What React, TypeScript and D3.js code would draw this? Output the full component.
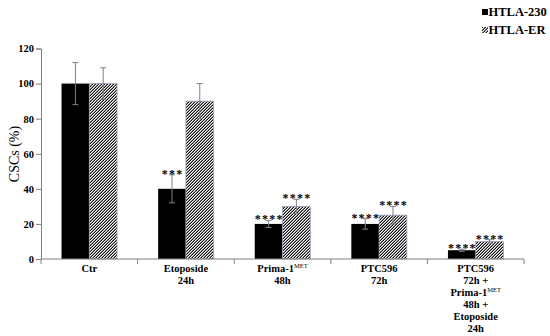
import React, { useEffect, useRef } from 'react';
import * as d3 from 'd3';

const categories = ['Ctr', 'Etoposide 24h', 'Prima-1MET 48h', 'PTC596 72h', 'PTC596 72h + Prima-1MET 48h + Etoposide 24h'];
// label lines, "^" marks the superscript part
const catLines = [
  ['Ctr'],
  ['Etoposide', '24h'],
  ['Prima-1^MET', '48h'],
  ['PTC596', '72h'],
  ['PTC596', '72h +', 'Prima-1^MET', '48h +', 'Etoposide', '24h'],
];
const series = ['HTLA-230', 'HTLA-ER'];
const htla230 = [100, 40, 20, 20, 5];
const err230 = [12, 8, 2, 3, 0.6];
const htlaER = [100, 90, 30, 25, 10];
const errER = [9, 10, 4, 5, 1];
const sig230 = ['', '***', '****', '****', '****'];
const sigER = ['', '', '****', '****', '****'];
const yTicks = [0, 20, 40, 60, 80, 100, 120];

const FONT = '"Liberation Serif", "Times New Roman", serif';
const AXIS = '#808080';

export default function App() {
  const ref = useRef<SVGSVGElement>(null);
  useEffect(() => {
    const svg = d3.select(ref.current);
    svg.selectAll('*').remove();
    const W = 550, H = 336;
    const M = { left: 41, right: 26, top: 48.5, bottom: 77 };

    // fine "/" hatch drawn on the pixel grid
    const defs = svg.append('defs');
    const pat = defs.append('pattern').attr('id', 'hatch').attr('patternUnits', 'userSpaceOnUse')
      .attr('width', 3).attr('height', 3);
    pat.append('rect').attr('width', 3).attr('height', 3).attr('fill', '#fff');
    [[2, 0], [1, 1], [0, 2]].forEach(([px, py]) => {
      pat.append('rect').attr('x', px).attr('y', py).attr('width', 1).attr('height', 1).attr('fill', '#111');
    });
    [[1, 0], [0, 1], [2, 2]].forEach(([px, py]) => {
      pat.append('rect').attr('x', px).attr('y', py).attr('width', 1).attr('height', 1).attr('fill', '#8a8a8a');
    });

    const x = d3.scaleBand<string>().domain(categories).range([M.left, W - M.right]).padding(0);
    const xi = d3.scaleBand<string>().domain(series).range([0, x.bandwidth()]).paddingInner(0).paddingOuter(0.74);
    const y = d3.scaleLinear().domain([0, 120]).range([H - M.bottom, M.top]);

    const g = svg.append('g');
    const vals = [htla230, htlaER], errs = [err230, errER], sigs = [sig230, sigER];

    series.forEach((s, si) => {
      categories.forEach((c, ci) => {
        const bx = x(c)! + xi(s)!;
        const bw = xi.bandwidth();
        g.append('rect').attr('x', bx).attr('y', y(vals[si][ci])).attr('width', bw)
          .attr('height', y(0) - y(vals[si][ci]))
          .attr('fill', si === 0 ? '#000' : 'url(#hatch)')
          .attr('stroke', si === 0 ? 'none' : '#9aa3bd').attr('stroke-width', 0.8);
        const cx = bx + bw / 2;
        const top = y(vals[si][ci] + errs[si][ci]);
        const bot = y(vals[si][ci] - errs[si][ci]);
        g.append('line').attr('x1', cx).attr('x2', cx).attr('y1', top).attr('y2', bot).attr('stroke', AXIS).attr('stroke-width', 1);
        g.append('line').attr('x1', cx - 3).attr('x2', cx + 3).attr('y1', top).attr('y2', top).attr('stroke', AXIS).attr('stroke-width', 1);
        g.append('line').attr('x1', cx - 3).attr('x2', cx + 3).attr('y1', bot).attr('y2', bot).attr('stroke', AXIS).attr('stroke-width', 1);
        if (sigs[si][ci]) {
          g.append('text').text(sigs[si][ci]).attr('x', cx + 0.6).attr('y', top + 3)
            .attr('text-anchor', 'middle').attr('font-family', FONT).attr('font-weight', 'bold')
            .attr('font-size', 12).attr('letter-spacing', 1.2).attr('fill', '#000');
        }
      });
    });

    // y axis
    const ya = svg.append('g').attr('transform', `translate(${M.left},0)`)
      .call(d3.axisLeft(y).tickValues(yTicks).tickSize(5).tickPadding(2));
    ya.select('.domain').attr('stroke', AXIS);
    ya.selectAll('line').attr('stroke', AXIS);
    ya.selectAll('text').attr('font-family', FONT).attr('font-weight', 'bold').attr('font-size', 10.5).attr('fill', '#000');

    // x axis
    const bounds = [...categories.map(c => x(c)!), W - M.right];
    svg.append('line').attr('x1', M.left).attr('x2', W - M.right).attr('y1', y(0)).attr('y2', y(0)).attr('stroke', AXIS);
    bounds.forEach(b => {
      svg.append('line').attr('x1', b).attr('x2', b).attr('y1', y(0)).attr('y2', y(0) + 5).attr('stroke', AXIS);
    });

    categories.forEach((c, ci) => {
      const cx = x(c)! + x.bandwidth() / 2;
      catLines[ci].forEach((ln, li) => {
        const t = svg.append('text').attr('x', cx).attr('y', y(0) + 13 + li * 11.9)
          .attr('text-anchor', 'middle').attr('font-family', FONT).attr('font-weight', 'bold')
          .attr('font-size', 10.5).attr('fill', '#000');
        const [main, sup] = ln.split('^');
        t.append('tspan').text(main);
        if (sup) t.append('tspan').text(sup).attr('font-size', 6.5).attr('font-weight', 'normal').attr('dy', -4);
      });
    });

    // y title
    svg.append('text').text('CSCs (%)').attr('transform', `translate(19,154) rotate(-90)`)
      .attr('text-anchor', 'middle').attr('font-family', FONT).attr('font-size', 14).attr('fill', '#000');

    // legend
    series.forEach((s, si) => {
      const ly = 16 + si * 18;
      svg.append('rect').attr('x', 482).attr('y', ly - 7).attr('width', 6).attr('height', 6)
        .attr('fill', si === 0 ? '#000' : 'url(#hatch)');
      svg.append('text').text(s).attr('x', 488.5).attr('y', ly).attr('font-family', FONT)
        .attr('font-weight', 'bold').attr('font-size', 12.5).attr('fill', '#000');
    });
  }, []);
  return <svg ref={ref} width={550} height={336} style={{ display: 'block', position: 'absolute', left: 0, top: 0, background: '#fff' }} />;
}
